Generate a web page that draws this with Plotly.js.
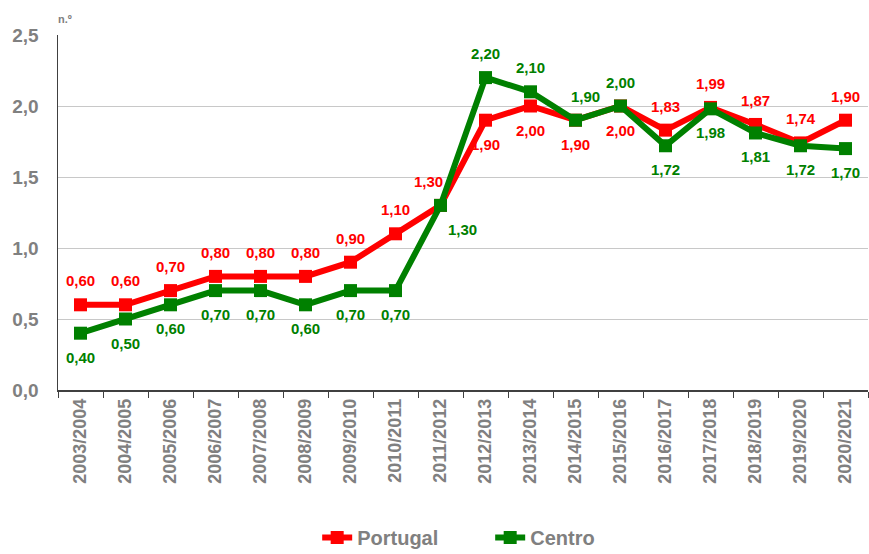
<!DOCTYPE html>
<html>
<head>
<meta charset="utf-8">
<script src="https://cdn.plot.ly/plotly-3.0.1.min.js"></script>
<style>html,body{margin:0;padding:0;background:#fff;}#chart{width:869px;height:554px;}</style>
</head>
<body>
<div id="chart"></div>
<script>
var categories = ["2003/2004","2004/2005","2005/2006","2006/2007","2007/2008","2008/2009","2009/2010","2010/2011","2011/2012","2012/2013","2013/2014","2014/2015","2015/2016","2016/2017","2017/2018","2018/2019","2019/2020","2020/2021"];
var portugal = [0.60,0.60,0.70,0.80,0.80,0.80,0.90,1.10,1.30,1.90,2.00,1.90,2.00,1.83,1.99,1.87,1.74,1.90];
var centro = [0.40,0.50,0.60,0.70,0.70,0.60,0.70,0.70,1.30,2.20,2.10,1.90,2.00,1.72,1.98,1.81,1.72,1.70];

var RED = "#ff0000", GREEN = "#008000";
var FONT = "Liberation Sans, Arial, sans-serif";

function fmt(v){ return v.toFixed(2).replace(".", ","); }

// label placement: +1 above, -1 below
var pPlace = categories.map(function(c,i){ return (i>=9 && i<=12) ? -1 : 1; });
var cPlace = categories.map(function(c,i){ return (i>=9 && i<=12) ? 1 : -1; });

var annotations = [];
categories.forEach(function(c,i){
  annotations.push({x:c, y:portugal[i], xref:"x", yref:"y", text:fmt(portugal[i]), showarrow:false,
    yshift: pPlace[i]*24, xshift: (i===8 ? -12 : 0),
    font:{family:FONT, size:15, color:RED, weight:"bold"}});
  annotations.push({x:c, y:centro[i], xref:"x", yref:"y", text:fmt(centro[i]), showarrow:false,
    yshift: cPlace[i]*24, xshift: (i===8 ? 22 : (i===11 ? 10 : 0)),
    font:{family:FONT, size:15, color:GREEN, weight:"bold"}});
});
annotations.push({x:0, y:1, xref:"paper", yref:"paper", xanchor:"left", yanchor:"bottom", yshift:8, xshift:-2,
  text:"n.º", showarrow:false, font:{family:FONT, size:11, color:"#808080", weight:"bold"}});

var traces = [
  {x:categories, y:portugal, name:"Portugal", type:"scatter", mode:"lines+markers",
   line:{color:RED, width:6}, marker:{symbol:"square", size:13, color:RED}},
  {x:categories, y:centro, name:"Centro", type:"scatter", mode:"lines+markers",
   line:{color:GREEN, width:6}, marker:{symbol:"square", size:13, color:GREEN}}
];

var layout = {
  width:869, height:554,
  margin:{l:58, r:1, t:35, b:164},
  paper_bgcolor:"#fff", plot_bgcolor:"#fff",
  separators:",.",
  showlegend:true,
  legend:{orientation:"h", x:0.365, xanchor:"left", xref:"container", y:0.03, yanchor:"middle", yref:"container",
    font:{family:FONT, size:20, color:"#808080", weight:"bold"},
    entrywidth:128, entrywidthmode:"pixels", tracegroupgap:0},
  xaxis:{type:"category", tickson:"boundaries", ticks:"outside", ticklen:6, tickcolor:"#404040",
    showline:true, linecolor:"#404040", linewidth:1.5, showgrid:false, tickangle:-90, automargin:false,
    tickfont:{family:FONT, size:18, color:"#808080", weight:"bold"},
    range:[-0.5,17.5], fixedrange:true},
  yaxis:{range:[0,2.5], dtick:0.5, tickformat:".1f", showline:true, linecolor:"#404040", linewidth:1.5,
    showgrid:true, gridcolor:"#c8c8c8", gridwidth:1, zeroline:false, automargin:false,
    ticks:"outside", ticklen:14, tickcolor:"rgba(0,0,0,0)",
    tickfont:{family:FONT, size:19, color:"#808080", weight:"bold"}},
  annotations:annotations
};

Plotly.newPlot("chart", traces, layout, {displayModeBar:false, staticPlot:true});
</script>
</body>
</html>
